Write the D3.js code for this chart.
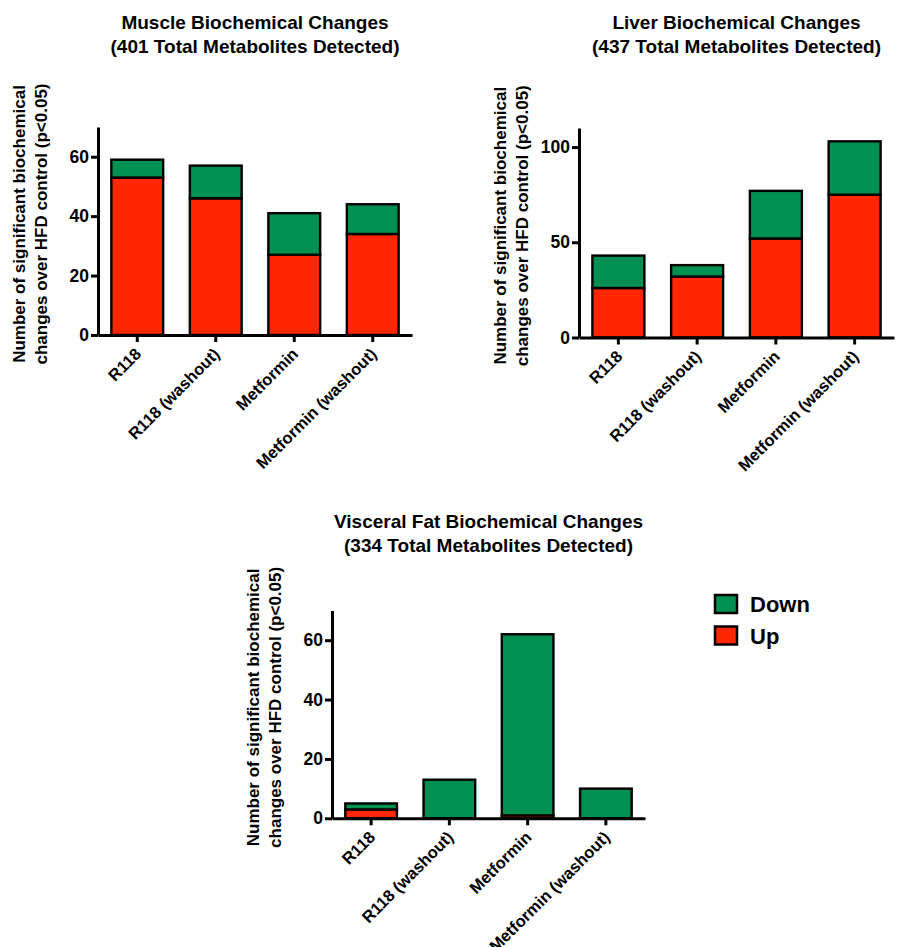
<!DOCTYPE html>
<html>
<head>
<meta charset="utf-8">
<script src="https://cdn.jsdelivr.net/npm/d3@7"></script>
<style>
  html, body { margin: 0; padding: 0; background: #fff; }
  svg text { font-family: "Liberation Sans", Arial, Helvetica, sans-serif; font-weight: bold; fill: #000; }
</style>
</head>
<body>
<svg id="chart" width="914" height="947"></svg>
<script>
const categories = ["R118", "R118 (washout)", "Metformin", "Metformin (washout)"];
const seriesKeys = ["Up", "Down"];
const legendKeys = ["Down", "Up"];
const colors = { Down: "#009051", Up: "#ff2600" };

const muscleUp   = [53, 46, 27, 34];
const muscleDown = [6, 11, 14, 10];
const liverUp    = [26, 32, 52, 75];
const liverDown  = [17, 6, 25, 28];
const fatUp      = [3, 0, 1, 0];
const fatDown    = [2, 13, 61, 10];

const muscleTicks = [0, 20, 40, 60];
const liverTicks  = [0, 50, 100];
const fatTicks    = [0, 20, 40, 60];

const yLabelLines = ["Number of significant biochemical", "changes over HFD control (p<0.05)"];

const panels = [
  { title: ["Muscle Biochemical Changes", "(401 Total Metabolites Detected)"],
    up: muscleUp, down: muscleDown, ticks: muscleTicks, max: 70,
    x0: 98, x1: 412, yTop: 127, yBase: 335, titleY: 29 },
  { title: ["Liver Biochemical Changes", "(437 Total Metabolites Detected)"],
    up: liverUp, down: liverDown, ticks: liverTicks, max: 110,
    x0: 579, x1: 894, yTop: 128, yBase: 337.5, titleY: 29 },
  { title: ["Visceral Fat Biochemical Changes", "(334 Total Metabolites Detected)"],
    up: fatUp, down: fatDown, ticks: fatTicks, max: 70,
    x0: 332, x1: 645, yTop: 610.5, yBase: 818.3, titleY: 528 }
];

const svg = d3.select("#chart");
const FF = "'Liberation Sans', Arial, Helvetica, sans-serif";

panels.forEach(p => {
  const g = svg.append("g");
  const x = d3.scaleBand().domain(categories).range([p.x0, p.x1]).paddingInner(0.34).paddingOuter(0.17);
  const y = d3.scaleLinear().domain([0, p.max]).range([p.yBase, p.yTop]);

  const rows = categories.map((c, i) => ({ cat: c, Up: p.up[i], Down: p.down[i] }));
  const stacked = d3.stack().keys(seriesKeys)(rows);

  stacked.forEach(layer => {
    g.selectAll(null).data(layer).enter().append("rect")
      .attr("x", d => x(d.data.cat))
      .attr("width", x.bandwidth())
      .attr("y", d => y(d[1]))
      .attr("height", d => Math.max(0, y(d[0]) - y(d[1])))
      .attr("fill", colors[layer.key])
      .attr("stroke", "#000")
      .attr("stroke-width", 2.4);
  });

  // y axis
  const yAxis = d3.axisLeft(y).tickValues(p.ticks).tickSize(7).tickSizeOuter(0).tickPadding(2).tickFormat(d3.format("d"));
  const ya = g.append("g").attr("transform", `translate(${p.x0},0)`).call(yAxis);
  ya.select(".domain").attr("stroke-width", 3).attr("stroke", "#000");
  ya.selectAll(".tick line").attr("stroke-width", 3).attr("stroke", "#000");
  ya.selectAll(".tick text").style("font-size", "17.5px").style("font-family", FF).style("font-weight", "bold");

  // x axis
  const xAxis = d3.axisBottom(x).tickSize(7).tickSizeOuter(0);
  const xa = g.append("g").attr("transform", `translate(0,${p.yBase})`).call(xAxis);
  xa.select(".domain").attr("stroke-width", 3).attr("stroke", "#000");
  xa.selectAll(".tick line").attr("stroke-width", 3).attr("stroke", "#000");
  xa.selectAll(".tick text")
    .style("font-size", "16.5px").style("font-family", FF).style("font-weight", "bold")
    .attr("text-anchor", "end")
    .attr("dy", 0)
    .attr("y", 0)
    .attr("transform", "translate(5,20) rotate(-45)");

  // y label
  const cy = (p.yTop + p.yBase) / 2 - 7;
  const yl = g.append("text")
    .attr("transform", `translate(${p.x0 - 73},${cy}) rotate(-90)`)
    .attr("text-anchor", "middle")
    .style("font-size", "17px");
  yLabelLines.forEach((t, i) => {
    yl.append("tspan").attr("x", 0).attr("y", i * 22).text(t);
  });

  // title
  const cx = (p.x0 + p.x1) / 2;
  p.title.forEach((t, i) => {
    g.append("text").attr("x", cx).attr("y", p.titleY + i * 24)
      .attr("text-anchor", "middle").style("font-size", "19px").text(t);
  });
});

// legend
const leg = svg.append("g");
legendKeys.forEach((k, i) => {
  const yy = 595 + i * 31.5;
  leg.append("rect").attr("x", 715).attr("y", yy).attr("width", 22).attr("height", 18)
    .attr("fill", colors[k]).attr("stroke", "#000").attr("stroke-width", 2.5);
  leg.append("text").attr("x", 750).attr("y", yy + 17).style("font-size", "22px").text(k);
});
</script>
</body>
</html>
